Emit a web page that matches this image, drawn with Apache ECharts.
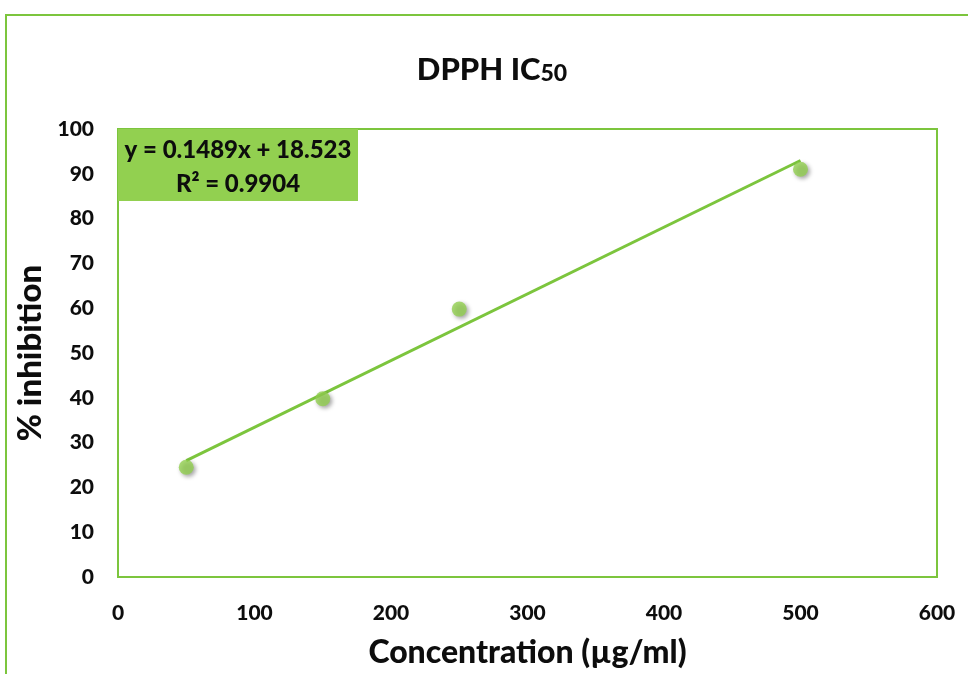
<!DOCTYPE html>
<html>
<head>
<meta charset="utf-8">
<script src="https://cdn.jsdelivr.net/npm/echarts@6/dist/echarts.min.js"></script>
<style>
  html, body { margin: 0; padding: 0; background: #fff; }
  #chart { width: 968px; height: 674px; }
</style>
</head>
<body>
<div id="chart"></div>
<script>
// Measured concentrations (µg/ml) and % inhibition
const concentrations = [50, 150, 250, 500];
const inhibition = [24.5, 39.8, 59.8, 91];

// Linear trendline coefficients shown in the equation label
const slope = 0.1489;
const intercept = 18.523;
const rSquared = 0.9904;

const xTicks = [0, 100, 200, 300, 400, 500, 600];
const yTicks = [0, 10, 20, 30, 40, 50, 60, 70, 80, 90, 100];

const green = '#7cc53d';
const markerGreen = '#92d050';
const font = 'Lato, "Open Sans", sans-serif';
const ink = '#0d0d0d';

const points = concentrations.map((c, i) => [c, inhibition[i]]);
const xFirst = concentrations[0];
const xLast = concentrations[concentrations.length - 1];
const trend = [
  [xFirst, slope * xFirst + intercept],
  [xLast, slope * xLast + intercept]
];

const chart = echarts.init(document.getElementById('chart'));
chart.setOption({
  backgroundColor: '#ffffff',
  animation: false,
  graphic: [
    {
      type: 'rect',
      shape: { x: 6, y: 15, width: 1000, height: 700 },
      style: { fill: 'none', stroke: green, lineWidth: 2 },
      silent: true
    },
    {
      type: 'text',
      x: 492, y: 70,
      style: {
        text: '{m|DPPH IC}{s|50}',
        align: 'center', verticalAlign: 'middle',
        rich: {
          m: { fontFamily: font, fontWeight: 900, fontSize: 31, fill: ink },
          s: { fontFamily: font, fontWeight: 900, fontSize: 23, fill: ink, padding: [8, 0, 0, 0] }
        }
      }
    },
    {
      type: 'rect',
      shape: { x: 118, y: 129, width: 240, height: 72 },
      style: { fill: markerGreen, stroke: 'none' },
      z: 10
    },
    {
      type: 'text',
      x: 238, y: 167,
      style: {
        text: 'y = ' + slope + 'x + ' + intercept + '\nR² = ' + rSquared,
        fontFamily: font, fontWeight: 900, fontSize: 24, lineHeight: 34,
        fill: ink, align: 'center', verticalAlign: 'middle'
      },
      z: 11
    }
  ],
  grid: {
    left: 118, top: 129, right: 31, bottom: 90,
    show: true, borderColor: green, borderWidth: 2,
    containLabel: false
  },
  xAxis: {
    type: 'value', min: 0, max: 600, interval: 100,
    name: 'Concentration (µg/ml)',
    nameLocation: 'middle', nameGap: 60,
    nameTextStyle: { fontFamily: font, fontWeight: 900, fontSize: 32, color: ink },
    axisLine: { show: false }, axisTick: { show: false }, splitLine: { show: false },
    axisLabel: { fontFamily: font, fontWeight: 900, fontSize: 21, color: ink, margin: 26 }
  },
  yAxis: {
    type: 'value', min: 0, max: 100, interval: 10,
    name: '% inhibition',
    nameLocation: 'middle', nameGap: 62, nameRotate: 90,
    nameTextStyle: { fontFamily: font, fontWeight: 900, fontSize: 33, color: ink },
    axisLine: { show: false }, axisTick: { show: false }, splitLine: { show: false },
    axisLabel: { fontFamily: font, fontWeight: 900, fontSize: 21, color: ink, margin: 24 }
  },
  series: [
    {
      type: 'line',
      data: trend,
      symbol: 'none',
      lineStyle: { color: green, width: 3 },
      z: 2
    },
    {
      type: 'scatter',
      data: points,
      symbolSize: 15,
      itemStyle: {
        color: markerGreen,
        shadowColor: 'rgba(0,0,0,0.45)',
        shadowBlur: 4,
        shadowOffsetX: 2,
        shadowOffsetY: 2
      },
      z: 3
    }
  ]
});
</script>
</body>
</html>
